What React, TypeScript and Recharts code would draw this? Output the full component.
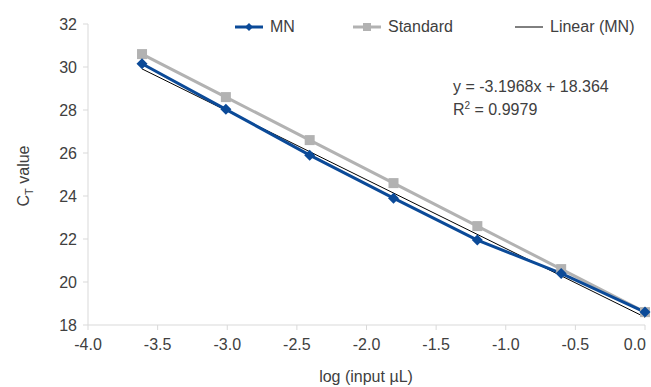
import { Line, LineChart, XAxis, YAxis } from "recharts"

// log of input volume for each dilution step
const logInput = [-3.612, -3.01, -2.408, -1.806, -1.204, -0.602, 0]
const mnCt = [30.15, 28.03, 25.9, 23.9, 21.95, 20.4, 18.6]
const standardCt = [30.6, 28.6, 26.6, 24.6, 22.6, 20.6, 18.6]

const xTicks = [-4, -3.5, -3, -2.5, -2, -1.5, -1, -0.5, 0]
const yTicks = [18, 20, 22, 24, 26, 28, 30, 32]

// trendline shown on the chart
const slope = -3.1968
const intercept = 18.364
const rSquared = "0.9979"

const data = logInput.map((x, i) => ({ x, mn: mnCt[i], standard: standardCt[i] }))
const trendData = [logInput[0], logInput[logInput.length - 1]].map((x) => ({
  x,
  trend: slope * x + intercept,
}))

const FONT = "'Liberation Sans', Arial, sans-serif"
const TEXT = "#404040"
const AXIS = "#d9d9d9"
const BLUE = "#0b4a98"
const GRAY = "#b2b2b2"

const Diamond = (props: any) => {
  const { cx, cy } = props
  if (cx == null || cy == null) return null
  const r = 5.5
  return (
    <polygon
      points={`${cx},${cy - r} ${cx + r},${cy} ${cx},${cy + r} ${cx - r},${cy}`}
      fill={BLUE}
    />
  )
}

const Square = (props: any) => {
  const { cx, cy } = props
  if (cx == null || cy == null) return null
  return <rect x={cx - 5} y={cy - 5} width={10} height={10} fill={GRAY} />
}

// the last label sits against the right edge of the picture
const XTick = (props: any) => {
  const { x, y, payload } = props
  const last = payload.value === 0
  return (
    <text
      x={last ? x + 1 : x}
      y={y}
      dy={16}
      textAnchor={last ? "end" : "middle"}
      fontFamily={FONT}
      fontSize={16}
      fill={TEXT}
    >
      {payload.value.toFixed(1)}
    </text>
  )
}

const LegendBox = () => {
  const item = (icon: React.ReactNode, label: string, width: number) => (
    <div style={{ display: "flex", alignItems: "center", width }}>
      <svg width={28} height={12} style={{ marginRight: 7 }}>
        {icon}
      </svg>
      <span>{label}</span>
    </div>
  )
  return (
    <div style={{ display: "flex", fontFamily: FONT, fontSize: 16, color: TEXT }}>
      {item(
        <>
          <line x1={0} y1={6} x2={28} y2={6} stroke={BLUE} strokeWidth={3} />
          <polygon points="14,2 18,6 14,10 10,6" fill={BLUE} />
        </>,
        "MN",
        118
      )}
      {item(
        <>
          <line x1={0} y1={6} x2={28} y2={6} stroke={GRAY} strokeWidth={3} />
          <rect x={10} y={2} width={8} height={8} fill={GRAY} />
        </>,
        "Standard",
        162
      )}
      {item(<line x1={0} y1={6} x2={28} y2={6} stroke="#000" strokeWidth={1} />, "Linear (MN)", 140)}
    </div>
  )
}

const YTitle = () => (
  <text
    transform="translate(29,176) rotate(-90)"
    textAnchor="middle"
    fontFamily={FONT}
    fontSize={16}
    fill={TEXT}
  >
    C<tspan fontSize={11} dy={4}>T</tspan>
    <tspan dy={-4}> value</tspan>
  </text>
)

const XTitle = () => (
  <text x={366} y={382} textAnchor="middle" fontFamily={FONT} fontSize={16} fill={TEXT}>
    log (input µL)
  </text>
)

export default function App() {
  return (
    <div style={{ position: "absolute", left: 0, top: 0, width: 651, height: 387 }}>
      <LineChart width={651} height={387} data={data} margin={{ top: 24, right: 6, bottom: 0, left: 0 }}>
        <XAxis
          type="number"
          dataKey="x"
          domain={[-4, 0]}
          ticks={xTicks}
          height={62}
          stroke={AXIS}
          tickSize={5}
          tickMargin={4}
          tick={<XTick />}
          label={<XTitle />}
        />
        <YAxis
          type="number"
          domain={[18, 32]}
          ticks={yTicks}
          width={88}
          stroke={AXIS}
          tickSize={5}
          tickMargin={6}
          tick={{ fill: TEXT, fontSize: 16, fontFamily: FONT }}
          label={<YTitle />}
        />
        <Line
          dataKey="standard"
          stroke={GRAY}
          strokeWidth={3}
          dot={<Square />}
          activeDot={false}
          isAnimationActive={false}
        />
        <Line
          data={trendData}
          dataKey="trend"
          stroke="#000"
          strokeWidth={1}
          dot={false}
          activeDot={false}
          isAnimationActive={false}
        />
        <Line
          dataKey="mn"
          stroke={BLUE}
          strokeWidth={3}
          dot={<Diamond />}
          activeDot={false}
          isAnimationActive={false}
        />
      </LineChart>
      <div style={{ position: "absolute", top: 18, left: 235 }}>
        <LegendBox />
      </div>
      <div
        style={{
          position: "absolute",
          left: 453,
          top: 75,
          fontFamily: FONT,
          fontSize: 16,
          color: TEXT,
          lineHeight: "23px",
        }}
      >
        <div>y = {slope}x + {intercept}</div>
        <div>
          R<sup style={{ fontSize: 10, verticalAlign: "6px", lineHeight: 0 }}>2</sup> = {rSquared}
        </div>
      </div>
    </div>
  )
}
